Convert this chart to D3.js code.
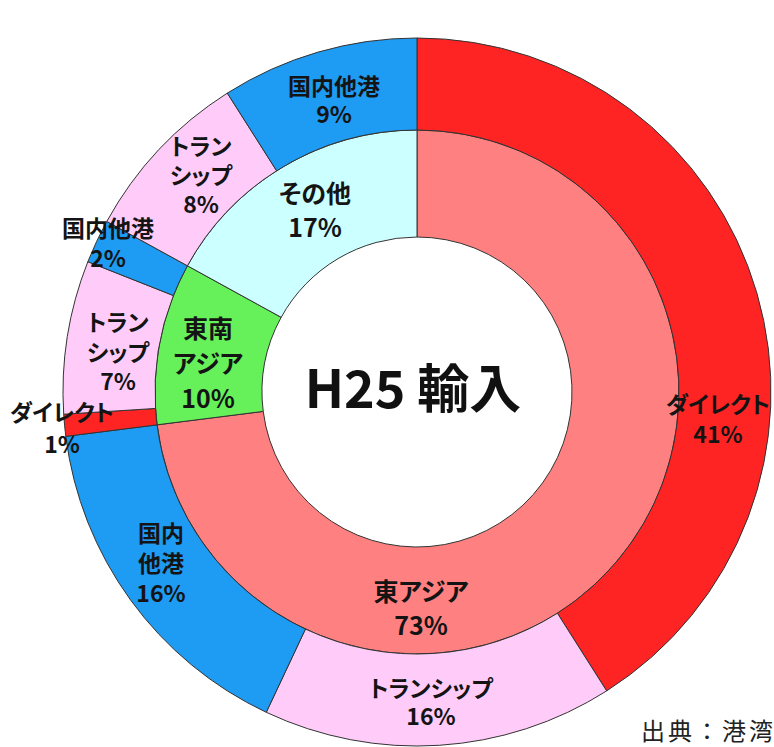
<!DOCTYPE html>
<html>
<head>
<meta charset="utf-8">
<script src="https://cdn.jsdelivr.net/npm/d3@7"></script>
<style>
  body { margin: 0; background: #fff; }
  svg text { font-family: "Noto Sans CJK JP", "Noto Sans", sans-serif; font-feature-settings: "palt"; }
  svg text.note { font-feature-settings: normal; }
</style>
</head>
<body>
<div id="chart"></div>
<script>
// data
const regionNames = ["東アジア", "東南アジア", "その他"];
const regionValues = [73, 10, 17];

const routeNames = ["ダイレクト", "トランシップ", "国内他港", "ダイレクト", "トランシップ", "国内他港", "トランシップ", "国内他港"];
const routeValues = [41, 16, 16, 1, 7, 2, 8, 9];
const routeRegion = [0, 0, 0, 1, 1, 1, 2, 2];

const centerTitle = "H25 輸入";
const sourceNote = "出典：港湾";

// colours
const regionColor = d3.scaleOrdinal()
  .domain(regionNames)
  .range(["#ff8080", "#66f05a", "#ccffff"]);

const routeColor = d3.scaleOrdinal()
  .domain(["ダイレクト", "トランシップ", "国内他港"])
  .range(["#ff2424", "#ffccf9", "#1e9bf2"]);

// label layout (text lines, x, first baseline, line gap)
const innerLabelLayout = [
  { lines: ["東アジア"], x: 421, y: 601, gap: 34 },
  { lines: ["東南", "アジア"], x: 208, y: 338, gap: 35 },
  { lines: ["その他"], x: 315, y: 203, gap: 34 }
];
const outerLabelLayout = [
  { lines: ["ダイレクト"], x: 718, y: 413, gap: 30 },
  { lines: ["トランシップ"], x: 431, y: 697, gap: 28 },
  { lines: ["国内", "他港"], x: 161, y: 542, gap: 30 },
  { lines: ["ダイレクト"], x: 62, y: 421, gap: 32 },
  { lines: ["トラン", "シップ"], x: 118, y: 331, gap: 29.5 },
  { lines: ["国内他港"], x: 108, y: 237, gap: 30 },
  { lines: ["トラン", "シップ"], x: 201, y: 155, gap: 29 },
  { lines: ["国内他港"], x: 334, y: 95, gap: 28 }
];

// setup dimensions
const width = 774;
const height = 747;
const cx = 417;
const cy = 392;
const rHole = 155;
const rMid = 262;
const rOuter = 354;

const svg = d3.select("#chart")
  .append("svg")
  .attr("width", width)
  .attr("height", height);

const g = svg.append("g").attr("transform", `translate(${cx},${cy})`);

const pie = d3.pie().sort(null).value(d => d.value);

const innerData = pie(regionNames.map((name, i) => ({ name, value: regionValues[i] })));
const outerData = pie(routeNames.map((name, i) => ({ name, value: routeValues[i], region: routeRegion[i] })));

const innerArc = d3.arc().innerRadius(rHole).outerRadius(rMid);
const outerArc = d3.arc().innerRadius(rMid).outerRadius(rOuter);

g.selectAll("path.inner")
  .data(innerData)
  .join("path")
  .attr("class", "inner")
  .attr("d", innerArc)
  .attr("fill", d => regionColor(d.data.name))
  .attr("stroke", "#333")
  .attr("stroke-width", 1);

g.selectAll("path.outer")
  .data(outerData)
  .join("path")
  .attr("class", "outer")
  .attr("d", outerArc)
  .attr("fill", d => routeColor(d.data.name))
  .attr("stroke", "#333")
  .attr("stroke-width", 1);

// labels
function drawLabel(layout, value, size) {
  const t = svg.append("text")
    .attr("text-anchor", "middle")
    .attr("fill", "#141414")
    .attr("font-weight", "bold")
    .style("font-size", size + "px");
  const lines = layout.lines.concat([value + "%"]);
  lines.forEach((line, i) => {
    t.append("tspan")
      .attr("x", layout.x)
      .attr("y", layout.y + i * layout.gap)
      .text(line);
  });
}

innerData.forEach((d, i) => drawLabel(innerLabelLayout[i], d.data.value, 25));
outerData.forEach((d, i) => drawLabel(outerLabelLayout[i], d.data.value, 23));

// centre title
svg.append("text")
  .attr("x", cx - 4)
  .attr("y", 408)
  .attr("text-anchor", "middle")
  .attr("fill", "#111")
  .attr("font-weight", "bold")
  .style("font-size", "52px")
  .text(centerTitle);

// source note (cut off by the right edge)
svg.append("text")
  .attr("class", "note")
  .attr("x", 641)
  .attr("y", 740)
  .attr("fill", "#222")
  .style("font-size", "24px")
  .style("letter-spacing", "3px")
  .text(sourceNote);
</script>
</body>
</html>
